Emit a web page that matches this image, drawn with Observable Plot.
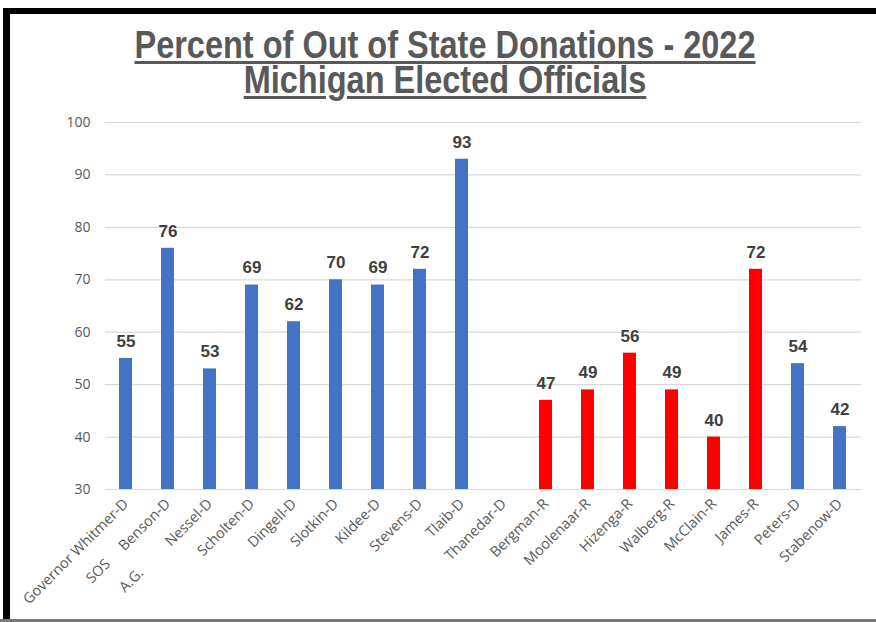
<!DOCTYPE html>
<html>
<head>
<meta charset="utf-8">
<script src="https://cdn.jsdelivr.net/npm/d3@7"></script>
<script src="https://cdn.jsdelivr.net/npm/@observablehq/plot@0.6"></script>
<style>
  html, body { margin: 0; padding: 0; background: #fff; }
  #page { position: relative; width: 876px; height: 622px; overflow: hidden; background: #fff; }
  #frameTop { position: absolute; left: 7px; top: 8px; width: 869px; height: 6px; background: #000; }
  #frameLeft { position: absolute; left: 3px; top: 8px; width: 7px; height: 614px; background: #000; }
  #frameBottom { position: absolute; left: 0; top: 619px; width: 876px; height: 3px; background: #777; }
  #title { position: absolute; left: 7px; top: 24px; width: 876px; text-align: center;
           font-family: "Liberation Sans", Arial, sans-serif;
           font-weight: bold; font-size: 38px; color: #595959;
           transform: scaleX(0.855); transform-origin: 438px 0; }
  #title .line { height: 35px; }
  #title span { display: inline-block; height: 32px; line-height: 32px; overflow: visible;
                text-decoration: underline; text-decoration-thickness: 3px; text-underline-offset: 3px; }
  #chart { position: absolute; left: 0; top: 100px; }
</style>
</head>
<body>
<div id="page">
  <div id="frameTop"></div>
  <div id="frameLeft"></div>
  <div id="frameBottom"></div>
  <div id="title"><div class="line"><span>Percent of Out of State Donations - 2022</span></div><div class="line"><span>Michigan Elected Officials</span></div></div>
  <div id="chart"></div>
</div>
<script>
const names = ["Governor Whitmer-D", "SOS\u00A0\u00A0\u00A0\u00A0 Benson-D", "A.G.\u00A0\u00A0\u00A0\u00A0\u00A0\u00A0\u00A0\u00A0\u00A0 Nessel-D", "Scholten-D", "Dingell-D", "Slotkin-D", "Kildee-D", "Stevens-D", "Tlaib-D", "Thanedar-D", "Bergman-R", "Moolenaar-R", "Hizenga-R", "Walberg-R", "McClain-R", "James-R", "Peters-D", "Stabenow-D"];
const values = [55, 76, 53, 69, 62, 70, 69, 72, 93, null, 47, 49, 56, 49, 40, 72, 54, 42];
const parties = ["D", "D", "D", "D", "D", "D", "D", "D", "D", "D", "R", "R", "R", "R", "R", "R", "D", "D"];
const yTicks = [30, 40, 50, 60, 70, 80, 90, 100];
const baseline = 30;

const data = names.map((name, i) => ({name, value: values[i], party: parties[i]}));
const bars = data.filter(d => d.value != null);

const chart = Plot.plot({
  width: 876,
  height: 522,
  marginTop: 22,
  marginBottom: 133,
  marginLeft: 105,
  marginRight: 15,
  style: {fontFamily: "'Open Sans', sans-serif", background: "transparent"},
  x: {domain: names, paddingInner: 0.69, paddingOuter: 0.345, label: null},
  y: {domain: [30, 100], label: null},
  color: {domain: ["D", "R"], range: ["#4472C4", "#FF0000"]},
  marks: [
    Plot.ruleY(yTicks, {stroke: "#d9d9d9", strokeWidth: 1.2}),
    Plot.axisY({ticks: yTicks, tickSize: 0, tickPadding: 15, fontSize: 14, color: "#595959", label: null}),
    Plot.axisX({tickSize: 0, tickPadding: 12, tickRotate: -45, fontSize: 14.5, color: "#595959", label: null}),
    Plot.barY(bars, {x: "name", y1: () => baseline, y2: "value", fill: "party"}),
    Plot.text(bars, {x: "name", y: "value", text: d => String(d.value), dy: -17,
      fontSize: 17, fontWeight: "bold", fill: "#404040", fontFamily: "'Liberation Sans', Arial, sans-serif"})
  ]
});
document.getElementById("chart").appendChild(chart);
</script>
</body>
</html>
